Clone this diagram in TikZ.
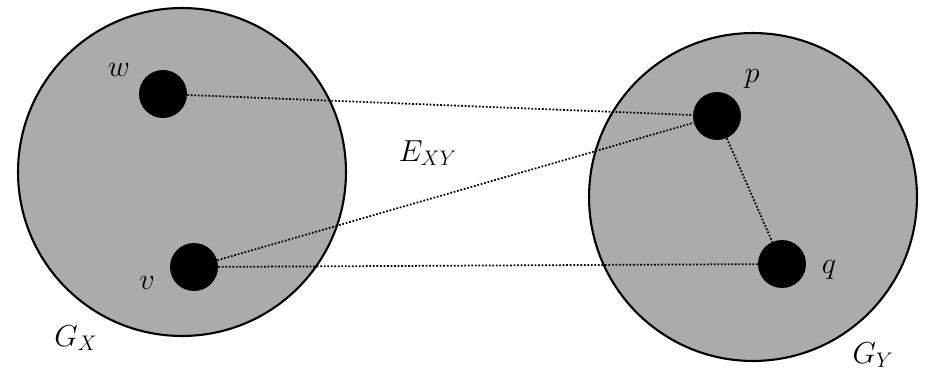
\documentclass[tikz,border=0pt]{standalone}
\usetikzlibrary{positioning}
\begin{document}
\begin{tikzpicture}[x=0.02cm, y=-0.02cm,
    cluster/.style={circle, draw=black, line width=1.2pt, fill=black!33,
      minimum size=6.56cm, inner sep=0pt},
    vertex/.style={circle, fill=black, minimum size=0.96cm, inner sep=0pt},
    link/.style={densely dotted, line width=1pt},
    lbl/.style={font=\fontsize{17}{20}\selectfont}]
  \useasboundingbox (0,0) rectangle (925,368);
  % the two clusters
  \node[cluster] (GX) at (182,172) {};
  \node[cluster] (GY) at (753,197) {};
  % vertices
  \node[vertex] (w) at (163,94) {};
  \node[vertex] (v) at (194,267) {};
  \node[vertex] (p) at (717,116) {};
  \node[vertex] (q) at (782,264) {};
  % edges
  \draw[link] (w) -- (p);
  \draw[link] (v) -- (p);
  \draw[link] (v) -- (q);
  \draw[link] (p) -- (q);
  % labels
  \node[lbl] (lw) at (119,70) {$w$};
  \node[lbl] (lv) at (147,283) {$v$};
  \node[lbl] (lp) at (752,79) {$p$};
  \node[lbl] (lq) at (829,270) {$q$};
  \node[lbl] (lE) at (428,153) {$E_{XY}$};
  \node[lbl] (lGX) at (76,338) {$G_X$};
  \node[lbl] (lGY) at (873,355) {$G_Y$};
\end{tikzpicture}
\end{document}
